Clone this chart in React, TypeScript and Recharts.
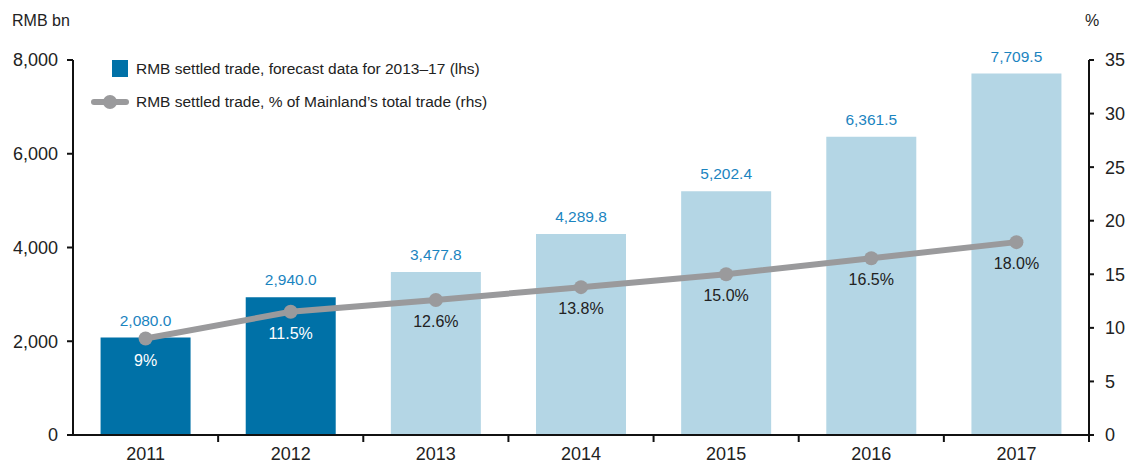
import { Bar, Cell, ComposedChart, LabelList, Line, XAxis, YAxis } from 'recharts'

const years = ['2011', '2012', '2013', '2014', '2015', '2016', '2017']
const tradeBn = [2080.0, 2940.0, 3477.8, 4289.8, 5202.4, 6361.5, 7709.5]
const sharePct = [9, 11.5, 12.6, 13.8, 15.0, 16.5, 18.0]
const shareLabels = ['9%', '11.5%', '12.6%', '13.8%', '15.0%', '16.5%', '18.0%']
const forecastFrom = 2
const leftTicks = [0, 2000, 4000, 6000, 8000]
const rightTicks = [0, 5, 10, 15, 20, 25, 30, 35]

const colors = {
  actual: '#0071a7',
  forecast: '#b4d6e5',
  line: '#9a9a9c',
  barLabel: '#1b84bf',
  text: '#222',
}

const W = 1131
const H = 467
const LEFT = 73
const RIGHT_AXIS = 1089
const band = (RIGHT_AXIS - LEFT) / years.length
const font = '"Liberation Sans", Arial, sans-serif'

const data = years.map((year, i) => ({
  year,
  trade: tradeBn[i],
  share: sharePct[i],
}))

const fmt = (v: number) =>
  v.toLocaleString('en-US', { minimumFractionDigits: 1, maximumFractionDigits: 1 })

// category ticks sit on the band edges, labels in the middle
function XTick(props: any) {
  const { x, y, payload } = props
  return (
    <g>
      <line x1={x + band / 2} x2={x + band / 2} y1={y - 8} y2={y - 1} stroke="#111" strokeWidth={2} />
      <text x={x} y={y + 17} textAnchor="middle" fontSize={18} fill={colors.text} fontFamily={font}>
        {payload.value}
      </text>
    </g>
  )
}

function BarValue(props: any) {
  const { x, y, width, index } = props
  return (
    <text x={x + width / 2} y={y - 12} textAnchor="middle" fontSize={15.5} fill={colors.barLabel} fontFamily={font}>
      {fmt(tradeBn[index])}
    </text>
  )
}

function ShareValue(props: any) {
  const { x, y, index } = props
  return (
    <text
      x={x}
      y={y + 27}
      textAnchor="middle"
      fontSize={16}
      fill={index < forecastFrom ? '#fff' : colors.text}
      fontFamily={font}
    >
      {shareLabels[index]}
    </text>
  )
}

export default function App() {
  return (
    <div style={{ position: 'absolute', left: 0, top: 0, width: W, height: H, background: '#fff' }}>
      <ComposedChart
        width={W}
        height={H}
        data={data}
        margin={{ top: 60, right: 0, bottom: 0, left: 0 }}
        barCategoryGap="19%"
      >
        <XAxis
          dataKey="year"
          tickLine={false}
          axisLine={{ stroke: '#111', strokeWidth: 2 }}
          tick={<XTick />}
          height={32}
          interval={0}
        />
        <YAxis
          yAxisId="left"
          domain={[0, 8000]}
          ticks={leftTicks}
          width={LEFT}
          tickFormatter={(v: number) => v.toLocaleString('en-US')}
          axisLine={{ stroke: '#111', strokeWidth: 2 }}
          tickLine={{ stroke: '#111', strokeWidth: 2 }}
          tickSize={6}
          tickMargin={9}
          tick={{ fontSize: 18, fill: colors.text, fontFamily: font }}
        />
        <YAxis
          yAxisId="right"
          orientation="right"
          domain={[0, 35]}
          ticks={rightTicks}
          width={W - RIGHT_AXIS}
          axisLine={{ stroke: '#111', strokeWidth: 2 }}
          tickLine={{ stroke: '#111', strokeWidth: 2 }}
          tickSize={5}
          tickMargin={11}
          tick={{ fontSize: 18, fill: colors.text, fontFamily: font }}
        />
        <Bar yAxisId="left" dataKey="trade" isAnimationActive={false}>
          {data.map((d, i) => (
            <Cell key={d.year} fill={i < forecastFrom ? colors.actual : colors.forecast} />
          ))}
          <LabelList dataKey="trade" content={<BarValue />} />
        </Bar>
        <Line
          yAxisId="right"
          dataKey="share"
          stroke={colors.line}
          strokeWidth={6}
          dot={{ r: 7, fill: colors.line, stroke: colors.line, strokeWidth: 0 }}
          isAnimationActive={false}
        >
          <LabelList dataKey="share" content={<ShareValue />} />
        </Line>
        <text x={12} y={26} fontSize={16} fill={colors.text} fontFamily={font}>
          RMB bn
        </text>
        <text x={1085} y={26} fontSize={16} fill={colors.text} fontFamily={font}>
          %
        </text>
        <g fontFamily={font} fontSize={15.5} fill={colors.text}>
          <rect x={112} y={60} width={16} height={17} fill={colors.actual} />
          <text x={136} y={74}>RMB settled trade, forecast data for 2013–17 (lhs)</text>
          <line x1={94} x2={126} y1={102} y2={102} stroke={colors.line} strokeWidth={6} strokeLinecap="round" />
          <circle cx={110} cy={102} r={7} fill={colors.line} />
          <text x={136} y={107}>RMB settled trade, % of Mainland’s total trade (rhs)</text>
        </g>
      </ComposedChart>
    </div>
  )
}
